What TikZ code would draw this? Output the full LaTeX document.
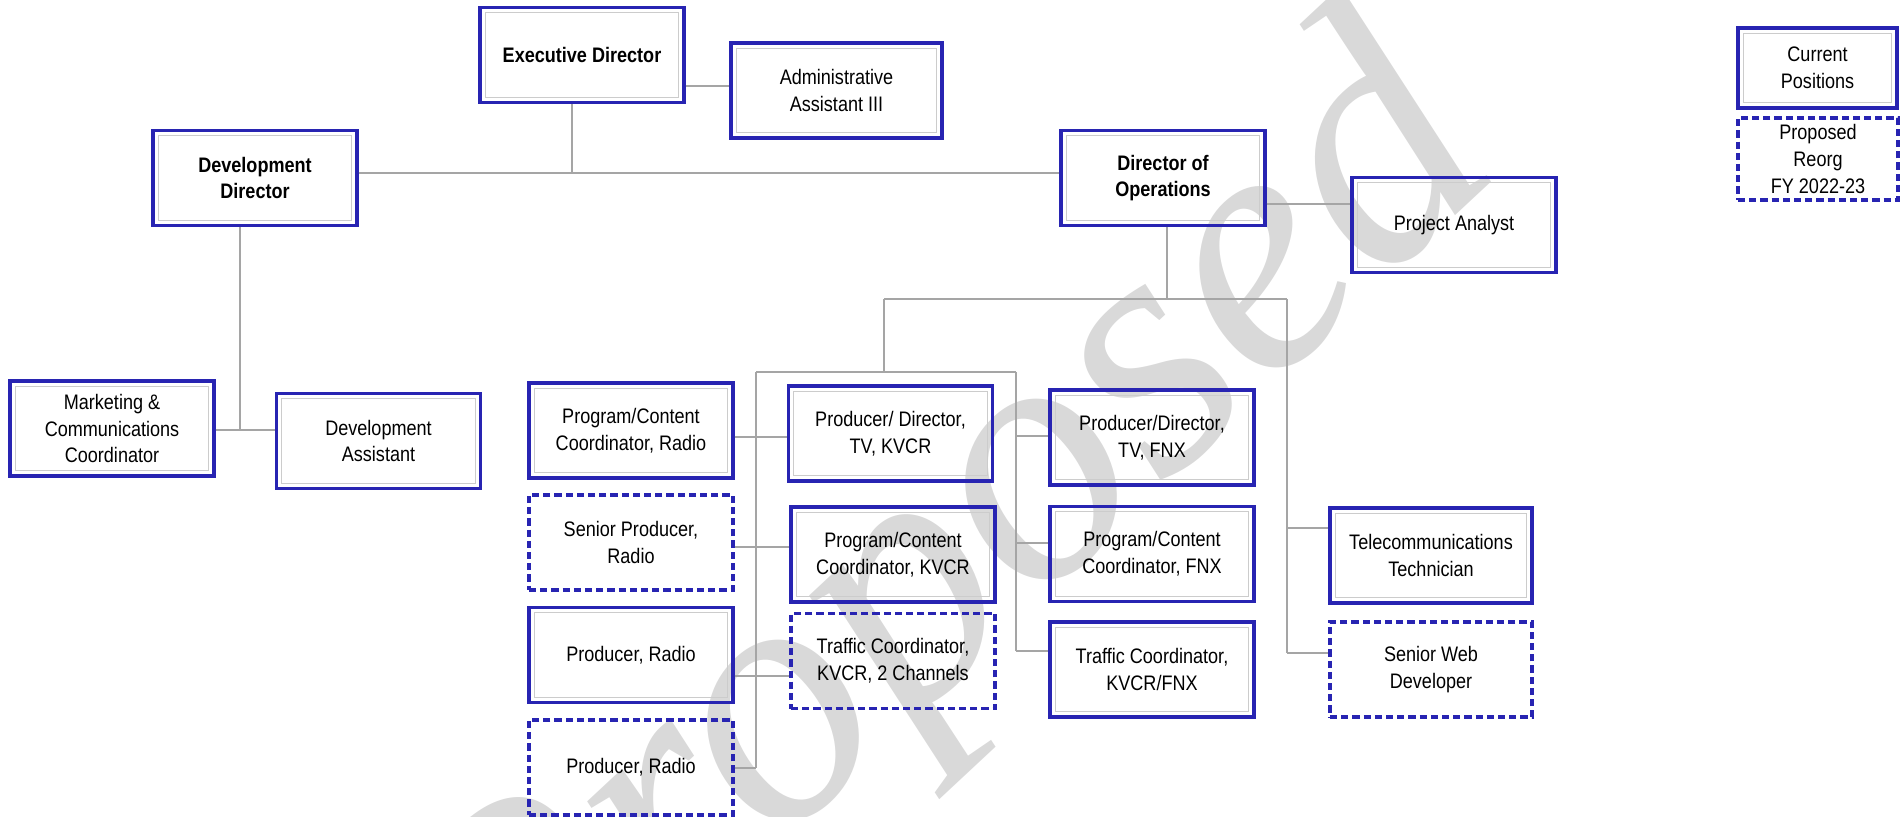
\documentclass[tikz,border=0pt]{standalone}
\usepackage{fontspec}
\setmainfont{Liberation Sans}[FakeStretch=0.86]
\newfontfamily\wmfont{Liberation Serif}
\definecolor{boxblue}{RGB}{40,36,178}
\definecolor{linegray}{RGB}{165,165,165}
\tikzset{
  curbox/.style={draw=boxblue, line width=1.6pt, minimum width=102pt, minimum height=47.5pt,
    align=center, inner sep=0pt, font=\fontsize{10.5}{13.3}\selectfont,
    path picture={\draw[gray!40, line width=0.5pt, solid]
      ([shift={(2.6pt,-2.6pt)}]path picture bounding box.north west) rectangle
      ([shift={(-2.6pt,2.6pt)}]path picture bounding box.south east);}},
  propbox/.style={curbox, dash pattern=on 3.6pt off 2pt, path picture={}},
  conn/.style={draw=linegray, line width=0.8pt},
}
\begin{document}
\begin{tikzpicture}[x=0.5pt, y=-0.5pt]
\useasboundingbox (0,0) rectangle (1904,817);
% watermark
\begin{scope}
\clip (0,0) rectangle (1904,817);
\node[rotate=43, text=black!15, font=\wmfont\itshape\fontsize{177}{177}\selectfont] (wm) at (958,563) {Proposed};
\end{scope}
% boxes
\node[curbox, font=\bfseries\fontsize{10.5}{13.3}\selectfont] (exec) at (582,55) {Executive Director};
\node[curbox, minimum width=105.5pt] (admin) at (836.5,90.5) {Administrative\\Assistant III};
\node[curbox, font=\bfseries\fontsize{10.5}{13.3}\selectfont] (devdir) at (255,178) {Development\\Director};
\node[curbox, font=\bfseries\fontsize{10.5}{13.3}\selectfont] (dirops) at (1163,178) {Director of\\Operations};
\node[curbox] (projan) at (1454,225) {Project Analyst};
\node[curbox, minimum width=79.5pt, minimum height=40pt] (legcur) at (1817.5,68) {Current\\Positions};
\node[propbox, minimum width=80pt, minimum height=41pt] (legprop) at (1818,159) {Proposed\\Reorg\\FY 2022-23};
\node[curbox] (marketing) at (112,428.5) {Marketing \&\\Communications\\Coordinator};
\node[curbox] (devasst) at (378.5,441) {Development\\Assistant};
\node[curbox] (pcradio) at (631,430.5) {Program/Content\\Coordinator, Radio};
\node[propbox] (srprod) at (631,542.5) {Senior Producer,\\Radio};
\node[curbox] (prodradio) at (631,655) {Producer, Radio};
\node[propbox] (prodradio2) at (631,767.5) {Producer, Radio};
\node[curbox] (pdkvcr) at (890.5,433.5) {Producer/ Director,\\TV, KVCR};
\node[curbox] (pckvcr) at (893,554.5) {Program/Content\\Coordinator, KVCR};
\node[propbox] (trafkvcr) at (893,661) {Traffic Coordinator,\\KVCR, 2 Channels};
\node[curbox] (pdfnx) at (1152,437.5) {Producer/Director,\\TV, FNX};
\node[curbox] (pcfnx) at (1152,554) {Program/Content\\Coordinator, FNX};
\node[curbox] (traffnx) at (1152,669.5) {Traffic Coordinator,\\KVCR/FNX};
\node[curbox, minimum width=101pt] (telecom) at (1431,555.5) {Telecommunications\\Technician};
\node[propbox, minimum width=101pt] (srweb) at (1431,669.5) {Senior Web\\Developer};
% connectors
\coordinate (jexec) at (572,173);
\draw[conn] (exec.south -| jexec) -- (jexec);
\draw[conn] (devdir.east |- jexec) -- (dirops.west |- jexec);
\coordinate (jadm) at (700,86);
\draw[conn] (exec.east |- jadm) -- (admin.west |- jadm);
\coordinate (jdev) at (240,430);
\draw[conn] (devdir.south -| jdev) -- (jdev);
\draw[conn] (marketing.east |- jdev) -- (devasst.west |- jdev);
\coordinate (jpa) at (1300,204);
\draw[conn] (dirops.east |- jpa) -- (projan.west |- jpa);
\coordinate (jops) at (1167,299);
\draw[conn] (dirops.south -| jops) -- (jops);
\coordinate (jL) at (884,299);
\coordinate (jR) at (1287,299);
\draw[conn] (jL) -- (jR);
\coordinate (jb) at (884,372);
\coordinate (jbL) at (756,372);
\coordinate (jbR) at (1016,372);
\draw[conn] (jL) -- (jb);
\draw[conn] (jbL) -- (jbR);
\coordinate (bL) at (756,768);
\coordinate (bM) at (1016,651);
\coordinate (bR) at (1287,653);
\draw[conn] (jbL) -- (bL);
\draw[conn] (jbR) -- (bM);
\draw[conn] (jR) -- (bR);
% left branches
\draw[conn] (pcradio.east |- 0,437) -- (pdkvcr.west |- 0,437);
\draw[conn] (srprod.east |- 0,547) -- (pckvcr.west |- 0,547);
\draw[conn] (prodradio.east |- 0,676) -- (trafkvcr.west |- 0,676);
\draw[conn] (prodradio2.east |- bL) -- (bL);
% middle branches
\draw[conn] (jbR |- 0,436) -- (pdfnx.west |- 0,436);
\draw[conn] (jbR |- 0,543) -- (pcfnx.west |- 0,543);
\draw[conn] (bM) -- (traffnx.west |- bM);
% right branches
\draw[conn] (jR |- 0,528) -- (telecom.west |- 0,528);
\draw[conn] (bR) -- (srweb.west |- bR);
\end{tikzpicture}
\end{document}
